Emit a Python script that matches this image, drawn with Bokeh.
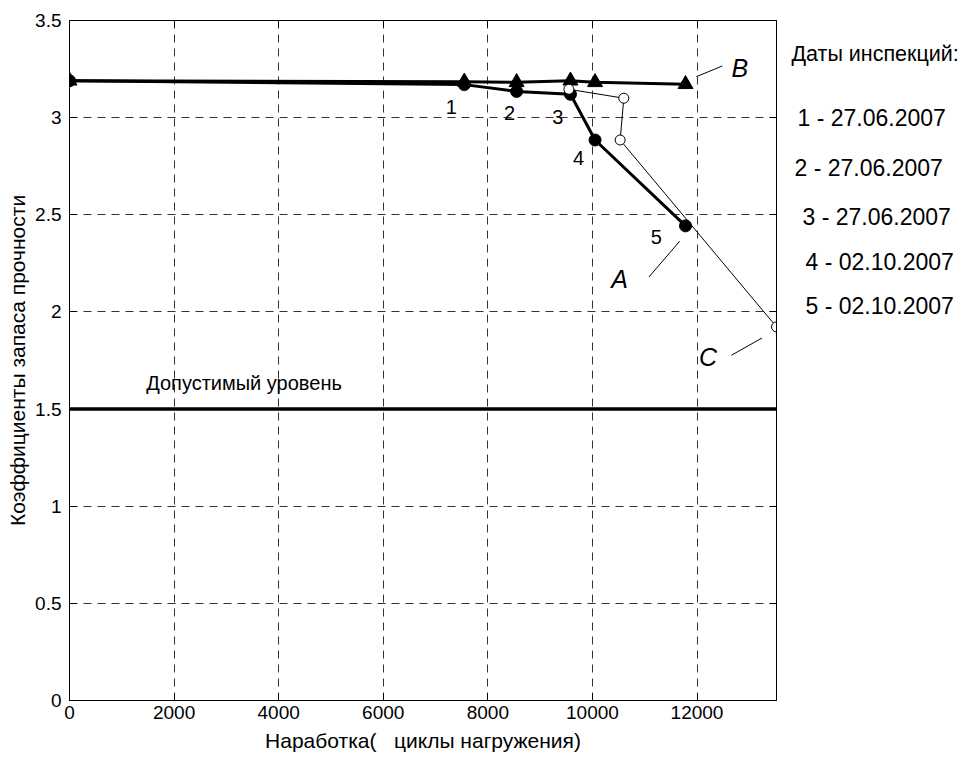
from bokeh.plotting import figure
from bokeh.layouts import row
from bokeh.models import (Label, LinearAxis, FixedTicker, CustomJSTickFormatter,
                          Range1d, ColumnDataSource)
from bokeh.embed import file_html
from bokeh.resources import INLINE

# ---------------- data ----------------
cycles_A = [0, 7550, 8550, 9580, 10050, 11780]
k_A = [3.19, 3.17, 3.135, 3.12, 2.885, 2.443]

cycles_B = [0, 7550, 8550, 9580, 10050, 11780]
k_B = [3.19, 3.185, 3.182, 3.19, 3.182, 3.172]

cycles_C = [9550, 10600, 10530, 13520]
k_C = [3.146, 3.10, 2.885, 1.923]

level_x = [0, 13520]
level_y = [1.5, 1.5]
level_text = "Допустимый уровень"

x_ticks = [0, 2000, 4000, 6000, 8000, 10000, 12000]
y_ticks = [0, 0.5, 1, 1.5, 2, 2.5, 3, 3.5]

point_labels = ["1", "2", "3", "4", "5"]
point_label_x = [7300, 8415, 9340, 9736, 11223]
point_label_y = [3.057, 3.023, 3.002, 2.791, 2.387]

curve_names = ["A", "B", "C"]
curve_name_x = [10521, 12817, 12211]
curve_name_y = [2.172, 3.256, 1.768]
leader_x0 = [11081, 11988, 12658]
leader_y0 = [2.180, 3.211, 1.777]
leader_x1 = [11669, 12486, 13244]
leader_y1 = [2.364, 3.266, 1.866]

dates_title = "Даты инспекций:"
dates = ["1 - 27.06.2007", "2 - 27.06.2007", "3 - 27.06.2007",
         "4 - 02.10.2007", "5 - 02.10.2007"]
dates_x = [13, 10, 18, 21, 21]          # px from the left of the side panel
dates_y = [2.998, 2.741, 2.488, 2.256, 2.030]
dates_title_x = 7
dates_title_y = 3.328

x_label = "Наработка(\u00a0\u00a0\u00a0циклы нагружения)"
y_label = "Коэффициенты запаса прочности"

FONT = "Liberation Sans"
TOP = 20
BOTTOM = 50

p = figure(output_backend="svg", toolbar_location=None,
           frame_width=707, frame_height=680,
           min_border_left=69, min_border_top=TOP,
           min_border_right=8, min_border_bottom=BOTTOM,
           x_range=Range1d(0, 13520), y_range=Range1d(0, 3.5),
           background_fill_color="white", border_fill_color="white")
p.outline_line_color = "black"
p.outline_line_width = 1

fmt = CustomJSTickFormatter(code="return String(tick);")
blank = CustomJSTickFormatter(code="return '';")

for ax in (p.xaxis[0], p.yaxis[0]):
    ax.formatter = fmt
    ax.major_tick_in = 7
    ax.major_tick_out = 0
    ax.minor_tick_line_color = None
    ax.axis_line_color = "black"
    ax.major_tick_line_color = "black"
    ax.major_label_text_font = FONT
    ax.major_label_text_font_size = "19px"
    ax.major_label_text_color = "black"
    ax.axis_label_text_font = FONT
    ax.axis_label_text_font_style = "normal"
    ax.axis_label_text_color = "black"
    ax.axis_label_text_font_size = "21px"

p.xaxis[0].ticker = FixedTicker(ticks=x_ticks)
p.yaxis[0].ticker = FixedTicker(ticks=y_ticks)
p.xaxis[0].axis_label = x_label
p.yaxis[0].axis_label = y_label
p.xaxis[0].major_label_standoff = 5
p.xaxis[0].axis_label_standoff = 7
p.yaxis[0].major_label_standoff = 8
p.yaxis[0].axis_label_standoff = 3

# top / right axes (ticks only)
top = LinearAxis(ticker=FixedTicker(ticks=x_ticks), formatter=blank,
                 major_tick_in=7, major_tick_out=0,
                 minor_tick_line_color=None, major_label_standoff=0)
right = LinearAxis(ticker=FixedTicker(ticks=y_ticks), formatter=blank,
                   major_tick_in=7, major_tick_out=0,
                   minor_tick_line_color=None, major_label_standoff=0)
p.add_layout(top, "above")
p.add_layout(right, "right")

# grid
p.xgrid.ticker = FixedTicker(ticks=x_ticks)
p.ygrid.ticker = FixedTicker(ticks=y_ticks)
for g in (p.xgrid[0], p.ygrid[0]):
    g.grid_line_color = "#333333"
    g.grid_line_dash = "8 6"
    g.grid_line_width = 1

# allowable level
p.line(level_x, level_y, line_color="black", line_width=3.5)

# curve B (triangles)
p.line(cycles_B, k_B, line_color="black", line_width=3)
p.scatter(cycles_B, k_B, marker="triangle", size=15, fill_color="black", line_color="black")

# curve A (filled circles)
p.line(cycles_A, k_A, line_color="black", line_width=3)
p.scatter(cycles_A, k_A, marker="circle", size=12, fill_color="black", line_color="black")

# curve C (open circles, thin)
p.line(cycles_C, k_C, line_color="black", line_width=1)
p.scatter(cycles_C, k_C, marker="circle", size=10, fill_color="white", line_color="black",
          line_width=1)

# leader lines
lsrc = ColumnDataSource(dict(x0=leader_x0, y0=leader_y0, x1=leader_x1, y1=leader_y1))
p.segment(x0="x0", y0="y0", x1="x1", y1="y1", source=lsrc, line_color="black", line_width=1)

# text annotations
p.add_layout(Label(x=1466, y=1.635, text=level_text, text_font=FONT, text_font_size="20px",
                   text_baseline="middle", text_align="left", text_color="black"))

for t, x, y in zip(point_labels, point_label_x, point_label_y):
    p.add_layout(Label(x=x, y=y, text=t, text_font=FONT, text_font_size="20px",
                       text_baseline="middle", text_align="center", text_color="black"))

for t, x, y in zip(curve_names, curve_name_x, curve_name_y):
    p.add_layout(Label(x=x, y=y, text=t, text_font=FONT, text_font_size="25px",
                       text_font_style="italic",
                       text_baseline="middle", text_align="center", text_color="black"))

# side panel with inspection dates
side = figure(output_backend="svg", toolbar_location=None,
              frame_width=175, frame_height=680,
              min_border_left=0, min_border_right=0,
              min_border_top=TOP, min_border_bottom=BOTTOM,
              x_range=Range1d(0, 175), y_range=p.y_range,
              background_fill_color="white", border_fill_color="white")
side.axis.visible = False
side.grid.visible = False
side.outline_line_color = None

side.add_layout(Label(x=dates_title_x, y=dates_title_y, text=dates_title, text_font=FONT,
                      text_font_size="21.5px", text_baseline="middle", text_align="left",
                      text_color="black"))
for t, x, y in zip(dates, dates_x, dates_y):
    side.add_layout(Label(x=x, y=y, text=t, text_font=FONT, text_font_size="23px",
                          text_baseline="middle", text_align="left", text_color="black"))

layout = row(p, side)
open("out.html", "w").write(file_html(layout, INLINE))
